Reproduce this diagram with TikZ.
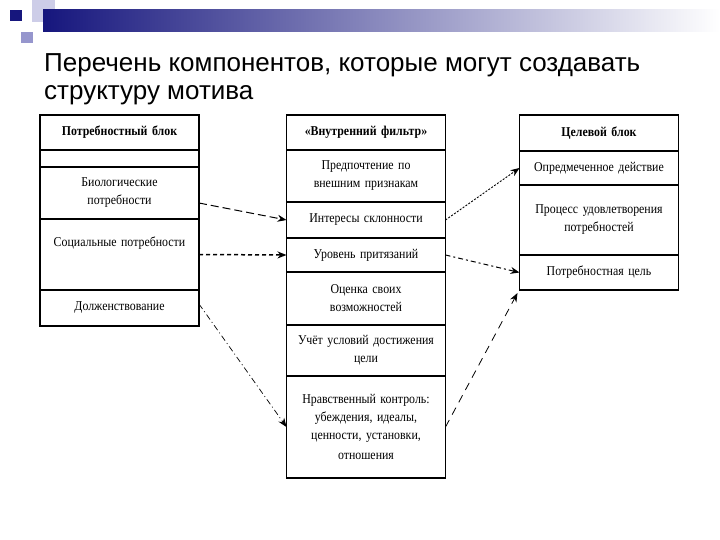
\documentclass[tikz,border=0pt]{standalone}
\usepackage{fontspec}
\setmainfont{Liberation Serif}
\newfontfamily\titlefont{Liberation Sans}
\newfontfamily\cellfont[FakeStretch=0.88]{Liberation Serif}
\usetikzlibrary{arrows.meta,positioning}

\definecolor{slidenavy}{RGB}{22,22,125}
\definecolor{slidelilac}{RGB}{150,150,205}
\definecolor{slidepale}{RGB}{205,205,232}

\begin{document}
\begin{tikzpicture}[x=1pt, y=-1pt,
    font=\cellfont\fontsize{13.5}{18}\selectfont,
    >={Stealth[length=9pt,width=7pt]},
    node distance=0pt,
    base/.style={draw, rectangle, line width=1.1pt, outer sep=0pt, minimum width=159pt, text width=152pt, align=center, inner sep=1pt},
    head/.style={base, font=\cellfont\bfseries\fontsize{13.5}{16}\selectfont},
    rule/.style={line width=2.4pt},
    longdash/.style={->, line width=1pt, dash pattern=on 8pt off 4pt},
    boldhash/.style={->, line width=1.5pt, dash pattern=on 4pt off 3pt},
    dashdot/.style={->, line width=0.7pt, dash pattern=on 6pt off 3pt on 1pt off 3pt},
    finedot/.style={->, line width=0.9pt, dash pattern=on 2pt off 1.5pt},
    dashdotb/.style={->, line width=1pt, dash pattern=on 5pt off 3pt on 2pt off 3pt},
    sparse/.style={->, line width=0.8pt, dash pattern=on 8pt off 6pt}]

\useasboundingbox (0,0) rectangle (720,540);

% slide decoration
\fill[slidepale] (32,0) rectangle (55,22);
\shade[left color=slidenavy, middle color=slidenavy!35, right color=white] (43,10) rectangle (720,32);
\fill[slidenavy] (10,10) rectangle (22,21);
\fill[slidelilac] (21,32) rectangle (33,43);

\node[anchor=base west, align=left, inner sep=0pt, font=\titlefont\fontsize{26}{28}\selectfont] (title) at (44,100)
    {Перечень компонентов, которые могут создавать\\структуру мотива};

% left block
\node[head, minimum height=35pt] (needhd) at (119.5,132.5) {Потребностный блок};
\node[base, minimum height=17pt, below=of needhd] (needgap) {};
\node[base, minimum height=52pt, below=of needgap] (bio) {Биологические\\потребности};
\node[base, minimum height=71pt, text depth=25pt, below=of bio] (social) {Социальные потребности};
\node[base, minimum height=36pt, below=of social] (duty) {Долженствование};
\draw[rule] (needhd.south west) -- (needhd.south east);

% middle block
\node[head, minimum height=35pt] (filthd) at (366,132.5) {«Внутренний фильтр»};
\node[base, minimum height=52pt, below=of filthd] (pref) {Предпочтение по\\внешним признакам};
\node[base, minimum height=36pt, below=of pref] (interest) {Интересы склонности};
\node[base, minimum height=34pt, below=of interest] (level) {Уровень притязаний};
\node[base, minimum height=53pt, below=of level] (assess) {Оценка своих\\возможностей};
\node[base, minimum height=51pt, below=of assess] (account) {Учёт условий достижения\\цели};
\node[base, minimum height=102pt, below=of account] (moral) {Нравственный контроль:\\убеждения, идеалы,\\ценности, установки,\\[2pt]отношения};
\draw[rule] (filthd.south west) -- (filthd.south east);

% right block
\node[head, minimum height=36pt] (goalhd) at (599,133) {Целевой блок};
\node[base, minimum height=34pt, below=of goalhd] (action) {Опредмеченное действие};
\node[base, minimum height=70pt, below=of action] (process) {Процесс удовлетворения\\потребностей};
\node[base, minimum height=35pt, below=of process] (goal) {Потребностная цель};
\draw[rule] (goalhd.south west) -- (goalhd.south east);

% connectors
\draw[longdash] ([yshift=-10pt]bio.east) -- (interest.west);
\draw[boldhash] (social.east) -- (level.west);
\draw[dashdot] ([yshift=4pt]duty.east) -- (moral.west);
\draw[finedot] (interest.east) -- (action.west);
\draw[dashdotb] (level.east) -- (goal.west);
\draw[sparse] (moral.east) -- ([shift={(-2pt,-3pt)}]goal.south west);

\end{tikzpicture}
\end{document}
